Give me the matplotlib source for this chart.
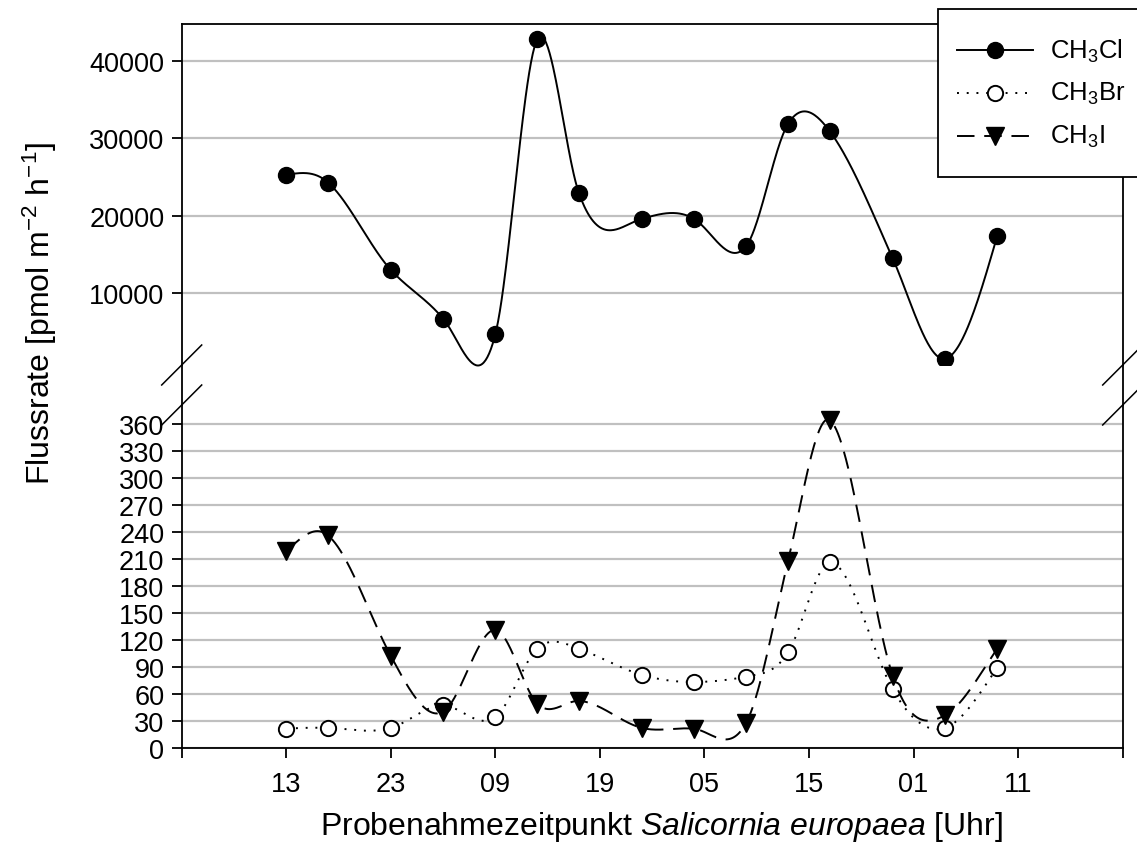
import numpy as np
import matplotlib
matplotlib.use("Agg")
import matplotlib.pyplot as plt
from matplotlib.lines import Line2D
from matplotlib.patches import Rectangle

plt.rcParams['font.family'] = ['Liberation Sans', 'DejaVu Sans']
plt.rcParams['mathtext.fontset'] = 'custom'
plt.rcParams['mathtext.rm'] = 'Liberation Sans'
plt.rcParams['mathtext.it'] = 'Liberation Sans:italic'
plt.rcParams['mathtext.default'] = 'regular'

# sampling time, hours after midnight of day 1
hours = [13, 17, 23, 28, 33, 37, 41, 47, 52, 57, 61, 65, 71, 76, 81]
ch3cl = [25300, 24300, 13000, 6700, 4700, 42800, 22900, 19600, 19600, 16100,
         31900, 30900, 14500, 1500, 17400]
ch3br = [21, 22, 22, 47, 34, 110, 110, 81, 73, 79, 106, 206, 65, 22, 89]
ch3i = [219, 236, 102, 40, 131, 49, 52, 22, 21, 28, 208, 364, 80, 36, 110]

xticks = [3, 13, 23, 33, 43, 53, 63, 73, 83, 93]
xticklabels = ["", "13", "23", "09", "19", "05", "15", "01", "11", ""]
top_ticks = [10000, 20000, 30000, 40000]
bot_ticks = list(range(0, 361, 30))


def spline(x, y, a=0.4, n=800):
    # cubic Hermite curve; tangents are a mix of natural-spline and Catmull-Rom slopes
    x = np.asarray(x, float)
    y = np.asarray(y, float)
    h = np.diff(x)
    m = len(x)
    A = np.zeros((m, m))
    r = np.zeros(m)
    A[0, 0] = 1
    A[-1, -1] = 1
    for i in range(1, m - 1):
        A[i, i - 1] = h[i - 1]
        A[i, i] = 2 * (h[i - 1] + h[i])
        A[i, i + 1] = h[i]
        r[i] = 3 * ((y[i + 1] - y[i]) / h[i] - (y[i] - y[i - 1]) / h[i - 1])
    c = np.linalg.solve(A, r)
    b = (y[1:] - y[:-1]) / h - h * (2 * c[:-1] + c[1:]) / 3
    d = (c[1:] - c[:-1]) / (3 * h)
    nat = np.append(b, b[-1] + 2 * c[-2] * h[-1] + 3 * d[-1] * h[-1] ** 2)
    cr = nat.copy()
    cr[1:-1] = (y[2:] - y[:-2]) / (x[2:] - x[:-2])
    tan = a * nat + (1 - a) * cr
    xs = np.linspace(x[0], x[-1], n)
    idx = np.clip(np.searchsorted(x, xs) - 1, 0, m - 2)
    s = (xs - x[idx]) / h[idx]
    h00 = 2 * s ** 3 - 3 * s ** 2 + 1
    h10 = s ** 3 - 2 * s ** 2 + s
    h01 = -2 * s ** 3 + 3 * s ** 2
    h11 = s ** 3 - s ** 2
    ys = (h00 * y[idx] + h10 * h[idx] * tan[idx] + h01 * y[idx + 1]
          + h11 * h[idx] * tan[idx + 1])
    return xs, ys


W, H = 1137, 854
fig = plt.figure(figsize=(W / 100, H / 100), dpi=100)
left, right = 181.7 / W, 1122.7 / W
ax_top = fig.add_axes([left, 1 - 366 / H, right - left, (366 - 25) / H])
ax_bot = fig.add_axes([left, 1 - 748.7 / H, right - left, (748.7 - 406) / H])

grid_c = '#c0c0c0'
lw = 1.3
fs = 19.5
dot_ls = (0, (1, 4))
dash_ls = (0, (9, 5))

# top panel
xs, ys = spline(hours, ch3cl)
ax_top.plot(xs, ys, color='black', lw=1.4, clip_on=False)
ax_top.plot(hours, ch3cl, 'o', color='black', ms=11.5)
ax_top.set_ylim(700, 44800)
ax_top.set_yticks(top_ticks)
ax_top.yaxis.grid(True, color=grid_c, lw=1.6)
ax_top.set_axisbelow(True)
ax_top.spines['bottom'].set_visible(False)
ax_top.tick_params(axis='x', bottom=False, labelbottom=False)

# bottom panel
xs, ys = spline(hours, ch3br)
ax_bot.plot(xs, ys, color='black', lw=1.4, ls=dot_ls)
ax_bot.plot(hours, ch3br, 'o', mfc='white', mec='black', mew=1.4, ms=11)
xs, ys = spline(hours, ch3i)
ax_bot.plot(xs, ys, color='black', lw=1.4, ls=dash_ls)
ax_bot.plot(hours, ch3i, 'v', color='black', ms=12.5)
ax_bot.set_ylim(0, 381)
ax_bot.set_yticks(bot_ticks)
ax_bot.yaxis.grid(True, color=grid_c, lw=1.6)
ax_bot.set_axisbelow(True)
ax_bot.spines['top'].set_visible(False)
ax_bot.set_xticks(xticks)
ax_bot.set_xticklabels(xticklabels)

for ax in (ax_top, ax_bot):
    ax.set_xlim(3, 93)
    for s in ax.spines.values():
        s.set_linewidth(lw)
    ax.tick_params(direction='out', length=7.5, width=lw, labelsize=fs, pad=5)
ax_bot.tick_params(axis='x', pad=9)

# spines across the gap + break marks
y_a, y_b = 1 - 366 / H, 1 - 406 / H
for xf in (left, right):
    fig.add_artist(Line2D([xf, xf], [y_b, y_a], color='black', lw=lw))
    for yc in (366, 406):
        x0, x1 = xf * W - 20, xf * W + 20
        fig.add_artist(Line2D([x0 / W, x1 / W], [1 - (yc + 20) / H, 1 - (yc - 20) / H],
                              color='black', lw=1.1))

ax_bot.set_xlabel(r'Probenahmezeitpunkt $\mathit{Salicornia\ europaea}$ [Uhr]',
                  fontsize=23, labelpad=12)
ax_bot.xaxis.set_label_coords(0.51, -0.18)
fig.text(40 / W, 1 - 314 / H, r'Flussrate [pmol m$^{-2}$ h$^{-1}$]', rotation=90,
         fontsize=23, ha='center', va='center')

# legend box, drawn by hand (it runs past the right edge like the original)
fig.add_artist(Rectangle((938 / W, 1 - 178 / H), 220 / W, 168 / H, transform=fig.transFigure,
                         facecolor='white', edgecolor='black', lw=lw, zorder=5))
leg_items = [
    ('CH$_3$Cl', dict(ls='-', marker='o', mfc='black', ms=11.5)),
    ('CH$_3$Br', dict(ls=dot_ls, marker='o', mfc='white', mew=1.4, ms=11)),
    ('CH$_3$I', dict(ls=dash_ls, marker='v', mfc='black', ms=12.5)),
]
for k, (lab, style) in enumerate(leg_items):
    yr = 1 - (51 + 43 * k) / H
    fig.add_artist(Line2D([957 / W, 1033 / W], [yr, yr], color='black', lw=1.4,
                          ls=style['ls'], zorder=6))
    fig.add_artist(Line2D([995 / W], [yr], color='black', marker=style['marker'],
                          mfc=style['mfc'], mec='black', mew=style.get('mew', 1),
                          ms=style['ms'], ls='none', zorder=7))
    fig.text(1050 / W, yr, lab, fontsize=18.5, va='center', ha='left', zorder=7)

fig.savefig('out.png', dpi=100)
